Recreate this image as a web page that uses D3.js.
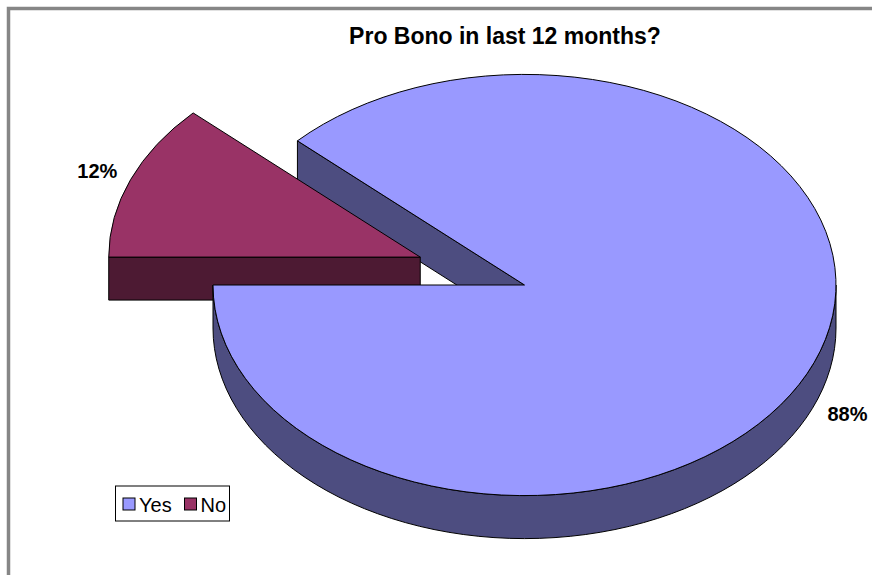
<!DOCTYPE html>
<html>
<head>
<meta charset="utf-8">
<script src="https://cdn.jsdelivr.net/npm/d3@7"></script>
<style>
  html, body { margin: 0; padding: 0; background: #fff; }
  svg { display: block; }
</style>
</head>
<body>
<svg id="chart" width="872" height="575"></svg>
<script>
// Survey answers (percent of respondents)
const categories = ["Yes", "No"];
const values = [88, 12];
const topColors = ["#9999ff", "#993366"];
const sideColors = ["#4d4d80", "#4d1a33"];
const title = "Pro Bono in last 12 months?";

const W = 872, H = 575;
const svg = d3.select("#chart");

// Outer frame (runs off the right and bottom edges)
svg.append("rect")
  .attr("x", 8.5).attr("y", 8.5)
  .attr("width", W + 20).attr("height", H + 20)
  .attr("fill", "#fff")
  .attr("stroke", "#868686")
  .attr("stroke-width", 3.5);

svg.append("text")
  .attr("x", 505).attr("y", 44)
  .attr("text-anchor", "middle")
  .attr("font-family", "Liberation Sans, Arial, sans-serif")
  .attr("font-weight", "bold")
  .attr("font-size", 23)
  .text(title);

// 3-D pie geometry: ellipse centre, radii and extrusion depth
const cx = 524.5, cy = 285, rx = 311.5, ry = 210.6, depth = 43;
const explode = [0, 0.36];

const total = d3.sum(values);
// Slice boundary between the two answers sits at nine o'clock
const pie = d3.pie().sort(null).value(d => d)
  .startAngle(1.5 * Math.PI - (values[0] / total) * 2 * Math.PI);
const arcs = pie(values);

const slices = arcs.map((a, i) => {
  const mid = (a.startAngle + a.endAngle) / 2;
  const e = explode[i];
  return {
    i, a, mid,
    ox: cx + e * rx * Math.sin(mid),
    oy: cy - e * ry * Math.cos(mid)
  };
});

function pt(s, ang, dz = 0, k = 1) {
  return [s.ox + k * rx * Math.sin(ang), s.oy - k * ry * Math.cos(ang) + dz];
}

function topPath(s) {
  const p0 = pt(s, s.a.startAngle), p1 = pt(s, s.a.endAngle);
  const large = (s.a.endAngle - s.a.startAngle) > Math.PI ? 1 : 0;
  return `M${s.ox},${s.oy}L${p0}A${rx},${ry} 0 ${large} 1 ${p1}Z`;
}

// Visible part of the curved rim: the front half of the ellipse (pi/2 .. 3pi/2)
function rimPath(s) {
  const a0 = s.a.startAngle, a1 = s.a.endAngle;
  const paths = [];
  for (let k = -1; k <= 1; k++) {
    const f0 = Math.PI / 2 + k * 2 * Math.PI, f1 = 1.5 * Math.PI + k * 2 * Math.PI;
    const s0 = Math.max(a0, f0), s1 = Math.min(a1, f1);
    if (s1 > s0 + 1e-6) {
      const q0 = pt(s, s0), q1 = pt(s, s1), q1d = pt(s, s1, depth), q0d = pt(s, s0, depth);
      paths.push(`M${q0}A${rx},${ry} 0 0 1 ${q1}L${q1d}A${rx},${ry} 0 0 0 ${q0d}Z`);
    }
  }
  return paths.join("");
}

// Flat radial walls; visible when the outward normal faces the viewer
function wallPaths(s) {
  const out = [];
  const edges = [[s.a.startAngle, s.a.startAngle - Math.PI / 2], [s.a.endAngle, s.a.endAngle + Math.PI / 2]];
  edges.forEach(([ang, n]) => {
    if (Math.cos(n) < -1e-6) {
      const p = pt(s, ang), pd = pt(s, ang, depth);
      out.push(`M${s.ox},${s.oy}L${p}L${pd}L${s.ox},${s.oy + depth}Z`);
    }
  });
  return out;
}

const g = svg.append("g")
  .attr("stroke", "#000")
  .attr("stroke-width", 1)
  .attr("stroke-linejoin", "round");

const yes = slices[0], no = slices[1];

// back-to-front drawing order
wallPaths(yes).forEach(d => g.append("path").attr("d", d).attr("fill", sideColors[0]));
wallPaths(no).forEach(d => g.append("path").attr("d", d).attr("fill", sideColors[1]));
const noRim = rimPath(no);
if (noRim) g.append("path").attr("d", noRim).attr("fill", sideColors[1]);
g.append("path").attr("d", topPath(no)).attr("fill", topColors[1]);
g.append("path").attr("d", rimPath(yes)).attr("fill", sideColors[0]);
g.append("path").attr("d", topPath(yes)).attr("fill", topColors[0]);

// Percentage labels just outside each slice
slices.forEach(s => {
  const front = Math.cos(s.mid) < 0;
  const p = pt(s, s.mid, front ? depth : 0, 1.115);
  svg.append("text")
    .attr("x", p[0]).attr("y", p[1])
    .attr("text-anchor", "middle")
    .attr("dominant-baseline", "central")
    .attr("font-family", "Liberation Sans, Arial, sans-serif")
    .attr("font-weight", "bold")
    .attr("font-size", 20)
    .text(Math.round(values[s.i] / total * 100) + "%");
});

// Legend
const legend = svg.append("g").attr("transform", "translate(115.5,486)");
legend.append("rect")
  .attr("width", 114).attr("height", 35)
  .attr("fill", "#fff").attr("stroke", "#000").attr("stroke-width", 1);
const itemX = [7.5, 69];
categories.forEach((c, i) => {
  const it = legend.append("g").attr("transform", `translate(${itemX[i]},12)`);
  it.append("rect")
    .attr("width", 12).attr("height", 12)
    .attr("fill", topColors[i]).attr("stroke", "#000").attr("stroke-width", 1);
  it.append("text")
    .attr("x", 16).attr("y", 13.5)
    .attr("font-family", "Liberation Sans, Arial, sans-serif")
    .attr("font-size", 20)
    .text(c);
});
</script>
</body>
</html>
